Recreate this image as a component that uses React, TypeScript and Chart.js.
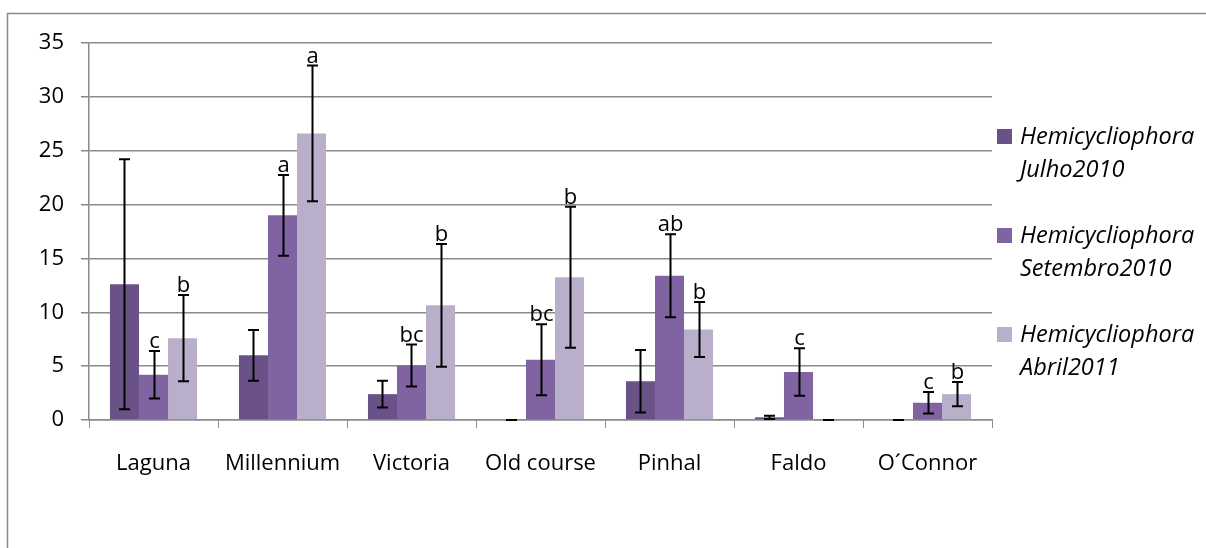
import React, { useEffect, useRef } from "react";
import { Chart, registerables } from "chart.js";

Chart.register(...registerables);

const categories = ["Laguna", "Millennium", "Victoria", "Old course", "Pinhal", "Faldo", "O´Connor"];
const seriesNames = [
  ["Hemicycliophora", "Julho2010"],
  ["Hemicycliophora", "Setembro2010"],
  ["Hemicycliophora", "Abril2011"],
];
const julho = [12.6, 6.0, 2.4, 0, 3.6, 0.25, 0];
const setembro = [4.2, 19.0, 5.05, 5.6, 13.4, 4.45, 1.6];
const abril = [7.6, 26.6, 10.65, 13.25, 8.4, 0, 2.4];
const julhoErr = [11.6, 2.35, 1.25, 0, 2.9, 0.15, 0];
const setembroErr = [2.2, 3.75, 1.95, 3.3, 3.85, 2.2, 1.0];
const abrilErr = [4.0, 6.3, 5.7, 6.55, 2.55, 0, 1.13];
const julhoLetters = ["", "", "", "", "", "", ""];
const setembroLetters = ["c", "a", "bc", "bc", "ab", "c", "c"];
const abrilLetters = ["b", "a", "b", "b", "b", "", "b"];
const yTicks = [0, 5, 10, 15, 20, 25, 30, 35];

const colors = ["#6A5289", "#8064A2", "#B9AFCB"];
const FONT = "'Open Sans', Lato, sans-serif";

export default function App() {
  const ref = useRef<HTMLCanvasElement | null>(null);
  useEffect(() => {
    if (!ref.current) return;
    const errs = [julhoErr, setembroErr, abrilErr];
    const letters = [julhoLetters, setembroLetters, abrilLetters];

    const errPlugin = {
      id: "errbars",
      afterDatasetsDraw(chart: any) {
        const ctx = chart.ctx;
        const y = chart.scales.y;
        ctx.save();
        chart.data.datasets.forEach((ds: any, di: number) => {
          const meta = chart.getDatasetMeta(di);
          meta.data.forEach((el: any, i: number) => {
            const v = ds.data[i];
            const e = errs[di][i];
            const x = Math.round(el.x) + 0.5;
            const yt = y.getPixelForValue(v + e);
            const yb = y.getPixelForValue(Math.max(0, v - e));
            ctx.strokeStyle = "#000";
            ctx.lineWidth = 2;
            ctx.beginPath();
            ctx.moveTo(x, yt);
            ctx.lineTo(x, yb);
            ctx.moveTo(x - 5.5, yt);
            ctx.lineTo(x + 5.5, yt);
            ctx.moveTo(x - 5.5, yb);
            ctx.lineTo(x + 5.5, yb);
            ctx.stroke();
            const L = letters[di][i];
            if (L) {
              ctx.fillStyle = "#000";
              ctx.font = "22px " + FONT;
              ctx.textAlign = "center";
              ctx.textBaseline = "alphabetic";
              ctx.fillText(L, x, yt - 3);
            }
          });
        });
        ctx.restore();
      },
    };

    const frame = {
      id: "frame",
      afterDraw(chart: any) {
        const ctx = chart.ctx;
        ctx.save();
        ctx.strokeStyle = "#8a8a8a";
        ctx.lineWidth = 1.5;
        ctx.strokeRect(7.5, 13.5, 1400, 700);
        // legend
        const x0 = 997;
        const tops = [129, 228, 327];
        seriesNames.forEach((lines, i) => {
          const t = tops[i];
          ctx.fillStyle = colors[i];
          ctx.fillRect(x0, t, 15, 15);
          ctx.fillStyle = "#000";
          ctx.font = "italic 23.5px " + FONT;
          ctx.textAlign = "left";
          ctx.textBaseline = "middle";
          ctx.fillText(lines[0], x0 + 23, t + 8);
          ctx.fillText(lines[1], x0 + 23, t + 41);
        });
        ctx.restore();
      },
    };

    const chart = new Chart(ref.current, {
      type: "bar",
      data: {
        labels: categories,
        datasets: [julho, setembro, abril].map((d, i) => ({
          label: seriesNames[i].join(" "),
          data: d,
          backgroundColor: colors[i],
          borderWidth: 0,
          categoryPercentage: 0.675,
          barPercentage: 1.0,
        })),
      },
      options: {
        animation: false,
        responsive: true,
        maintainAspectRatio: false,
        layout: { padding: { left: 0, top: 43, right: 214, bottom: 68 } },
        plugins: { legend: { display: false }, tooltip: { enabled: false } },
        scales: {
          x: {
            offset: true,
            grid: { drawOnChartArea: false, drawTicks: true, tickLength: 8, color: "#8a8a8a", offset: true },
            border: { color: "#8a8a8a", width: 1.5 },
            ticks: { color: "#000", font: { family: FONT, size: 22 }, padding: 23, maxRotation: 0, autoSkip: false },
            afterFit: (s: any) => { s.height = 60; },
          },
          y: {
            min: 0,
            max: 35,
            afterBuildTicks: (s: any) => { s.ticks = yTicks.map((v) => ({ value: v })); },
            grid: { color: "#8a8a8a", lineWidth: 1.5, tickLength: 8 },
            border: { color: "#8a8a8a", width: 1.5 },
            ticks: { color: "#000", font: { family: FONT, size: 22 }, padding: 17 },
            afterFit: (s: any) => { s.width = 89; },
          },
        },
      },
      plugins: [errPlugin, frame],
    });
    return () => chart.destroy();
  }, []);
  return (
    <div style={{ position: "fixed", left: 0, top: 0, width: 1206, height: 548, background: "#fff" }}>
      <canvas ref={ref} />
    </div>
  );
}
